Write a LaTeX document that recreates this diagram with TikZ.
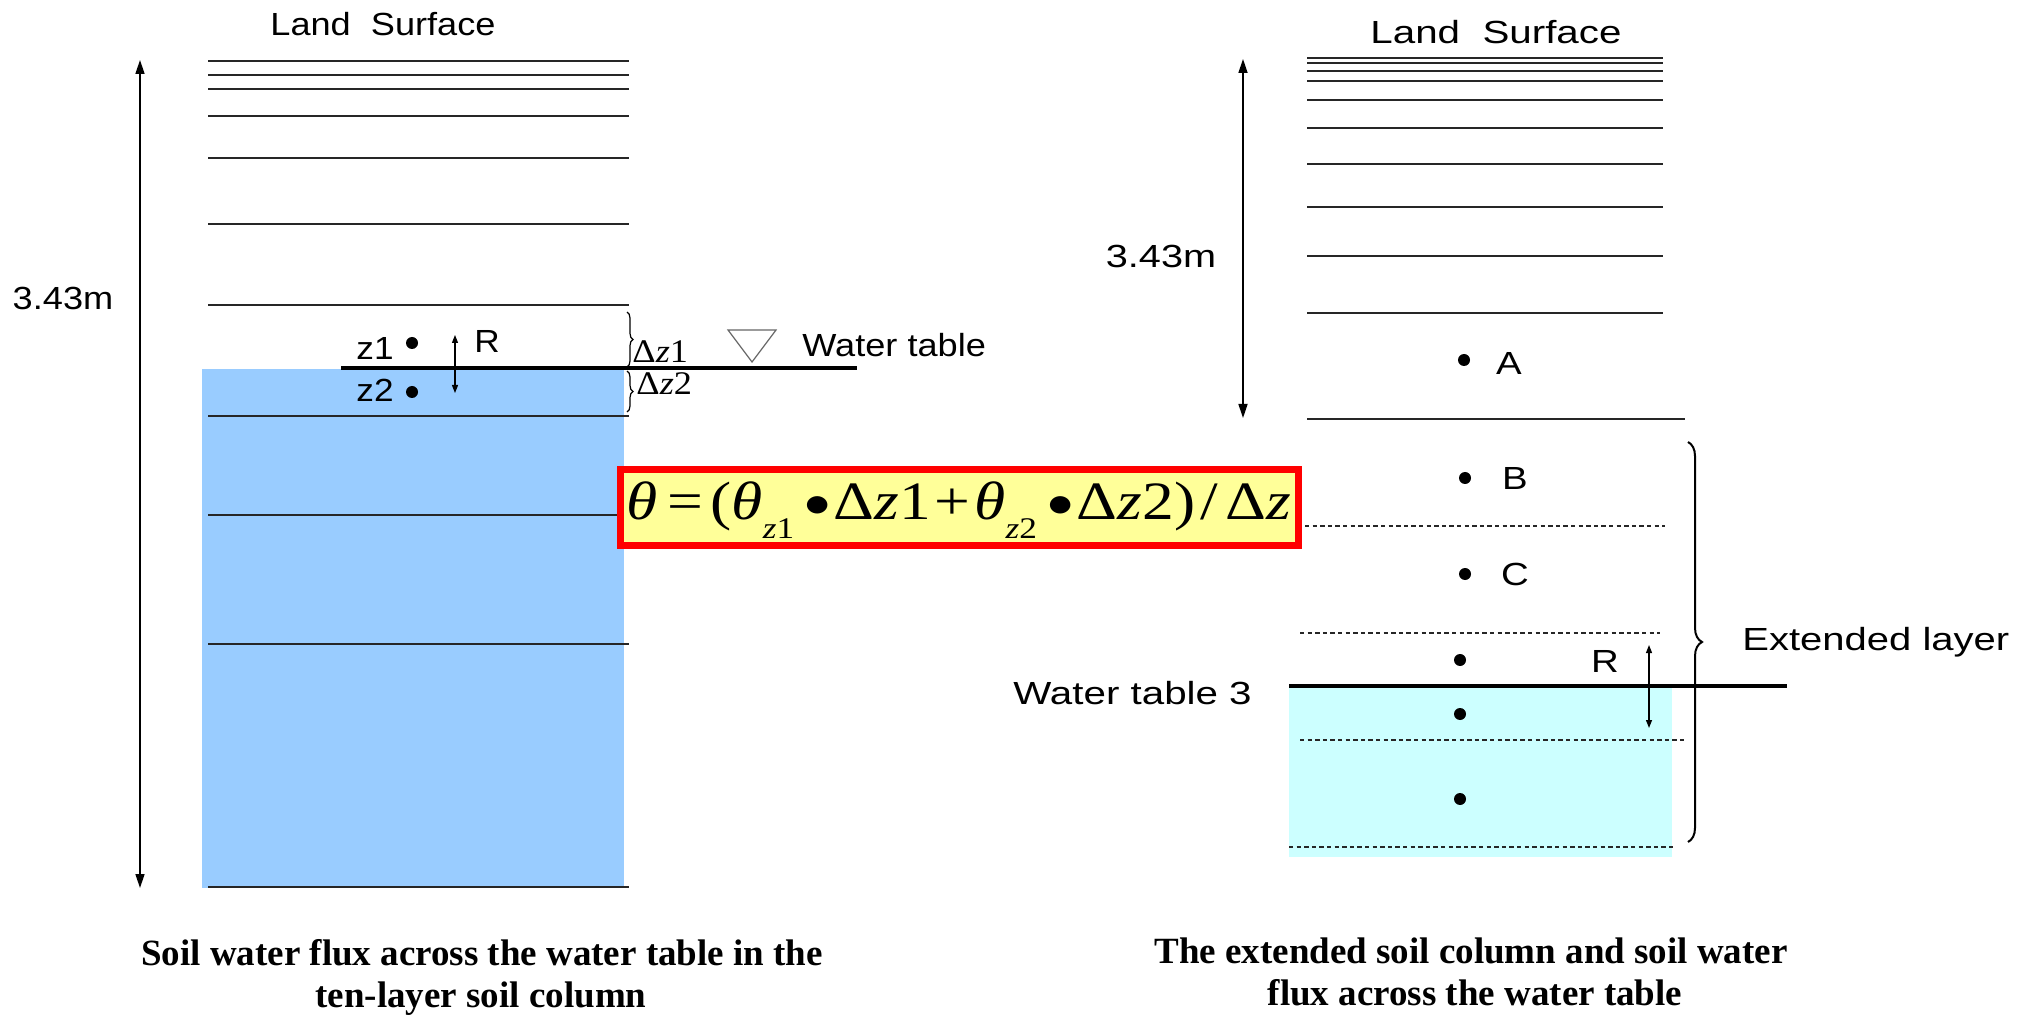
\documentclass[tikz,border=0pt]{standalone}
\usepackage{fontspec}
\setmainfont{Liberation Serif}
\setsansfont{Liberation Sans}
\usetikzlibrary{arrows.meta,decorations.pathreplacing}
\definecolor{soilblue}{HTML}{99CCFF}
\definecolor{soilcyan}{HTML}{CCFFFF}
\definecolor{boxyellow}{HTML}{FFFF99}
\definecolor{boxred}{HTML}{FF0000}
\newcommand{\sx}[2]{\scalebox{#1}[1]{#2}}
\newcommand{\fbul}{\raisebox{0.06em}{\scalebox{0.9}{$\bullet$}}}
\newcommand{\eqsub}[1]{\raisebox{-0.34em}{\fontsize{15}{15}\selectfont\textit{z}#1}}
\newcommand{\gap}[1]{\hspace{#1em}}
\begin{document}
\begin{tikzpicture}[x=0.5pt,y=-0.5pt,
  layer/.style={line width=0.8pt, draw=black!85},
  wt/.style={line width=1.8pt, draw=black},
  dlayer/.style={line width=0.6pt, dash pattern=on 2.2pt off 1.6pt, draw=black!85},
  lbl/.style={font=\sffamily\fontsize{16}{19}\selectfont, inner sep=0pt, anchor=base},
  lblw/.style={lbl, anchor=base west},
  dlt/.style={font=\fontsize{16.5}{19}\selectfont, inner sep=0pt, anchor=base west},
  captxt/.style={font=\bfseries\fontsize{18.5}{22}\selectfont, inner sep=0pt, anchor=base},
  dot/.style={circle, fill=black, inner sep=0pt, minimum size=6pt},
  bigarrow/.style={line width=0.8pt, {Triangle[length=7pt,width=4.5pt]}-{Triangle[length=7pt,width=4.5pt]}},
  smallarrow/.style={line width=0.6pt, {Triangle[length=4pt,width=3pt]}-{Triangle[length=4pt,width=3pt]}},
  bracedeco/.style={decorate, decoration={brace, amplitude=#1}},
  formula/.style={draw=boxred, fill=boxyellow, line width=3.5pt, inner sep=0pt, minimum width=339pt, minimum height=38pt},
  eqtext/.style={font=\fontsize{27}{30}\selectfont, inner sep=0pt, anchor=base},
]
\useasboundingbox (0,0) rectangle (2017,1015);
\fill[white] (0,0) rectangle (2017,1015);

% ---------------- left column ----------------
\fill[soilblue] (202,369) rectangle (624,888);
\foreach \y in {61,75,89,116,158,224,305,416,515,644,887}
  \draw[layer] (208,\y) -- (629,\y);
\draw[wt] (341,368) -- (857,368);

\node[lbl] (lsL) at (383,36) {\sx{1.13}{Land\ \ Surface}};
\node[lbl] (hL) at (63,310) {\sx{1.13}{3.43m}};
\coordinate (aLt) at (140,60);
\coordinate (aLb) at (140,888);
\draw[bigarrow] (aLt) -- (aLb);

\node[dot] (z1d) at (412,343) {};
\node[dot] (z2d) at (412,392) {};
\node[lbl] (z1) at (375,360) {\sx{1.1}{z1}};
\node[lbl] (z2) at (375,402) {\sx{1.1}{z2}};
\coordinate (rLt) at (455,335);
\coordinate (rLb) at (455,393);
\draw[smallarrow] (rLt) -- (rLb);
\node[lbl] (rL) at (487,353) {\sx{1.1}{R}};

\coordinate (b1t) at (627,312);
\coordinate (b1b) at (627,367);
\coordinate (b2t) at (627,371);
\coordinate (b2b) at (627,412);
\draw[bracedeco=3pt, line width=0.6pt] (b1t) -- (b1b);
\draw[bracedeco=3pt, line width=0.6pt] (b2t) -- (b2b);
\node[dlt] (dz1) at (632,363) {\sx{1.1}{Δ\textit{z}1}};
\node[dlt] (dz2) at (636,395) {\sx{1.1}{Δ\textit{z}2}};

\draw[line width=0.6pt, draw=black!60] (728,330) -- (776,330) -- (752,362) -- cycle;
\node[lblw] (wtL) at (802,357) {\sx{1.13}{Water table}};

% ---------------- right column ----------------
\fill[soilcyan] (1289,686) rectangle (1672,857);
\foreach \y in {58,63,71,81,100,128,164,207,256,313}
  \draw[layer] (1307,\y) -- (1663,\y);
\draw[layer] (1307,419) -- (1685,419);
\draw[dlayer] (1305,526) -- (1665,526);
\draw[dlayer] (1300,633) -- (1660,633);
\draw[dlayer] (1300,740) -- (1685,740);
\draw[dlayer] (1289,847) -- (1673,847);
\draw[wt] (1289,686) -- (1787,686);

\node[lbl] (lsR) at (1496,44) {\sx{1.26}{Land\ \ Surface}};
\node[lbl] (hR) at (1161,268) {\sx{1.24}{3.43m}};
\coordinate (aRt) at (1243,59);
\coordinate (aRb) at (1243,418);
\draw[bigarrow] (aRt) -- (aRb);

\node[dot] (dA) at (1464,360) {};
\node[lbl] (A) at (1509,375) {\sx{1.2}{A}};
\node[dot] (dB) at (1465,478) {};
\node[lbl] (B) at (1515,490) {\sx{1.2}{B}};
\node[dot] (dC) at (1465,574) {};
\node[lbl] (C) at (1515,585) {\sx{1.2}{C}};
\node[dot] (d4) at (1460,660) {};
\node[dot] (d5) at (1460,714) {};
\node[dot] (d6) at (1460,799) {};

\coordinate (rRt) at (1649,645);
\coordinate (rRb) at (1649,728);
\draw[smallarrow] (rRt) -- (rRb);
\node[lbl] (rR) at (1605,672) {\sx{1.2}{R}};

\coordinate (ebt) at (1688,442);
\coordinate (ebb) at (1688,842);
\draw[bracedeco=7pt, line width=1pt] (ebt) -- (ebb);
\node[lblw] (ext) at (1742,650) {\sx{1.25}{Extended layer}};
\node[lblw] (wt3) at (1013,704) {\sx{1.26}{Water table 3}};

% ---------------- formula ----------------
\node[formula] (eq) at (959.5,507.5) {};
\node[eqtext] (eqtxt) at (959,520) {\resizebox{332pt}{\height}{%
  \textit{θ}\gap{0.14}=\gap{0.12}(\textit{θ}\eqsub{1}\gap{0.16}\fbul\gap{0.05}Δ\textit{z}1\gap{0.06}+\gap{0.06}\textit{θ}\eqsub{2}\gap{0.16}\fbul\gap{0.05}Δ\textit{z}2)\gap{0.08}/\gap{0.12}Δ\textit{z}}};

% ---------------- captions ----------------
\node[captxt] (c1a) at (482,965) {Soil water flux across the water table in the};
\node[captxt] (c1b) at (481,1007) {ten-layer soil column};
\node[captxt] (c2a) at (1471,963) {The extended soil column and soil water};
\node[captxt] (c2b) at (1475,1005) {flux across the water table};
\end{tikzpicture}
\end{document}
